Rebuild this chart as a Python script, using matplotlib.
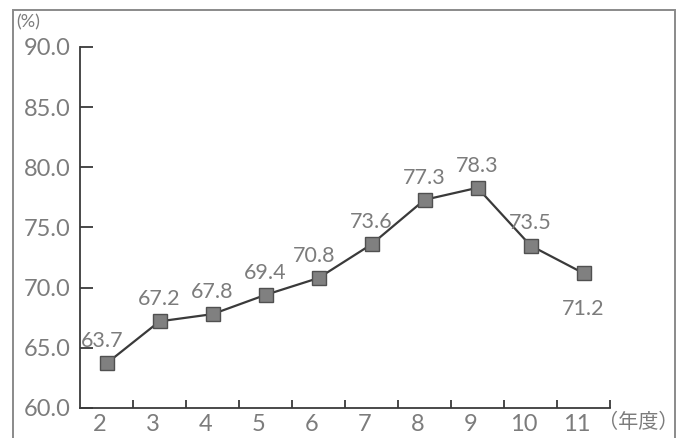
import matplotlib
matplotlib.use('Agg')
import matplotlib.pyplot as plt
import matplotlib.transforms as mtransforms
from matplotlib.patches import Rectangle

years = ['2', '3', '4', '5', '6', '7', '8', '9', '10', '11']
rates = [63.7, 67.2, 67.8, 69.4, 70.8, 73.6, 77.3, 78.3, 73.5, 71.2]
y_ticks = [60.0, 65.0, 70.0, 75.0, 80.0, 85.0, 90.0]

TEXT = '#7c7c7c'
LINE = '#3a3a3a'

plt.rcParams['font.family'] = ['Lato', 'DejaVu Sans']

fig = plt.figure(figsize=(6.82, 4.38), dpi=100)
ax = fig.add_axes([80 / 682, 30 / 438, 530 / 682, 361 / 438])

xs = list(range(len(years)))
ax.plot(xs, rates, color=LINE, lw=1.6, marker='s', markersize=9.5,
        markerfacecolor='#808080', markeredgecolor='#505050', markeredgewidth=1.0,
        zorder=3)

# data labels, 71.2 sits under its point
for i, (x, v) in enumerate(zip(xs, rates)):
    dy = -26 if i == len(rates) - 1 else 16
    dx = -3 if i in (0, 4) else 0
    ax.annotate(f'{v:.1f}', (x, v), xytext=(dx, dy), textcoords='offset points',
                ha='center', va='center', fontsize=15.5, color=TEXT)

ax.set_xlim(-0.5, len(years) - 0.5)
ax.set_ylim(60, 90)

ax.set_yticks(y_ticks)
ax.set_yticklabels([f'{t:.1f}' for t in y_ticks], fontsize=17, color=TEXT)
ax.tick_params(axis='y', direction='in', length=9, width=1.3, color=LINE, pad=7)

ax.set_xticks(xs)
ax.set_xticklabels(years, fontsize=17, color=TEXT)
ax.set_xticks([x + 0.5 for x in xs], minor=True)
ax.tick_params(axis='x', which='major', length=0, pad=4)
ax.tick_params(axis='x', which='minor', direction='in', length=6, width=1.3, color=LINE)
shift = mtransforms.ScaledTranslation(-7 / 100, 0, fig.dpi_scale_trans)
for lab in ax.get_xticklabels():
    lab.set_transform(lab.get_transform() + shift)

for s in ('top', 'right'):
    ax.spines[s].set_visible(False)
for s in ('left', 'bottom'):
    ax.spines[s].set_color(LINE)
    ax.spines[s].set_linewidth(1.3)

fig.text(16 / 682, 1 - 22 / 438, '(%)', fontsize=13, color=TEXT,
         ha='left', va='center')
fig.text(678 / 682, 1 - 423 / 438, '（年度）', fontsize=14.5, color=TEXT,
         ha='right', va='center', family=['Noto Sans CJK JP', 'DejaVu Sans'])

# outer frame of the figure box
fig.patches.append(Rectangle((13 / 682, -0.02), 662 / 682, 428 / 438 + 0.02,
                             transform=fig.transFigure, fill=False,
                             edgecolor='#8a8a8a', lw=1.4))

fig.savefig('out.png', dpi=100)
